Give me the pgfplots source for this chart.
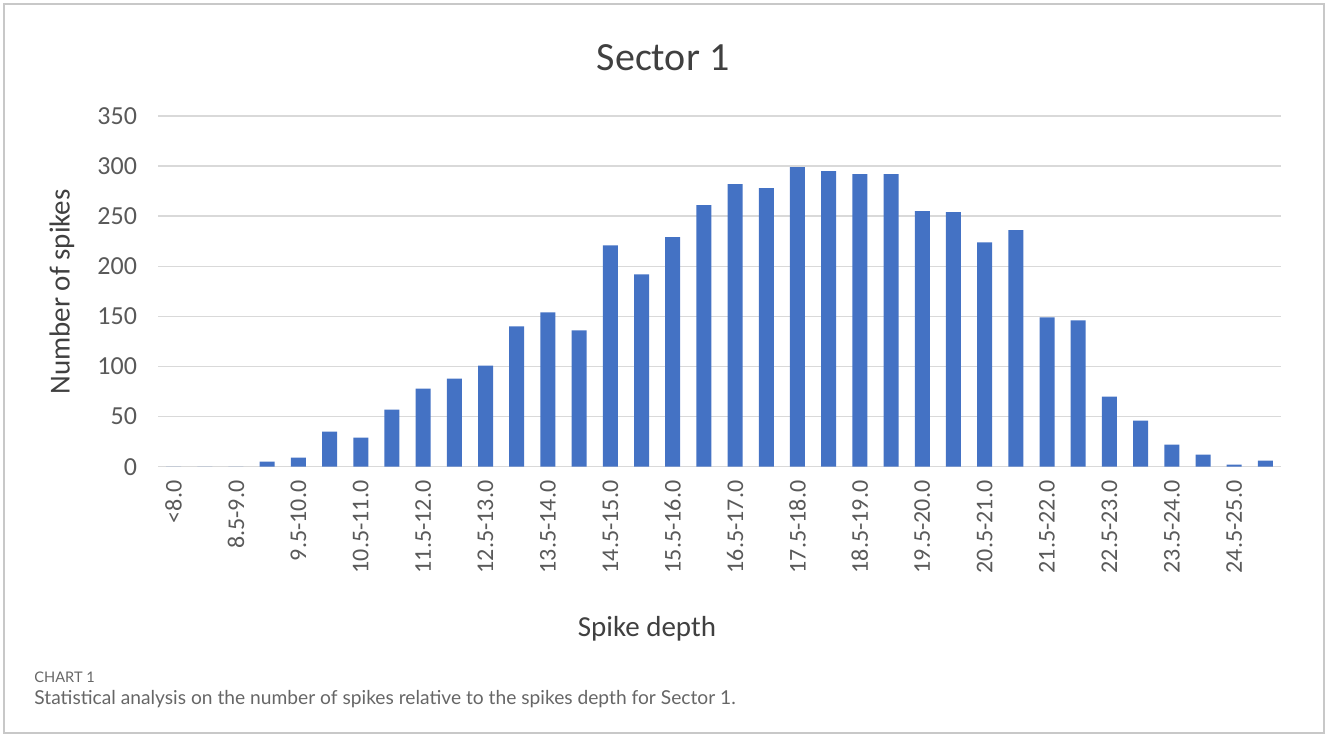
\documentclass[border=0pt]{standalone}
\usepackage{pgfplots}
\pgfplotsset{compat=1.18}
\usepackage{pgfplotstable}
\usepackage{fontspec}
\setmainfont{Carlito}
\newfontfamily\capfont{Lato}
\definecolor{barblue}{HTML}{4472C4}
\definecolor{gridgray}{HTML}{D9D9D9}
\definecolor{ticktext}{HTML}{595959}
\definecolor{labeltext}{HTML}{404040}
\definecolor{captext}{HTML}{666666}
\definecolor{framegray}{HTML}{C8C8C8}

\pgfplotstableread{
x y
0 0
1 0
2 0
3 5
4 9
5 35
6 29
7 57
8 78
9 88
10 101
11 140
12 154
13 136
14 221
15 192
16 229
17 261
18 282
19 278
20 299
21 295
22 292
23 292
24 255
25 254
26 224
27 236
28 149
29 146
30 70
31 46
32 22
33 12
34 2
35 6
}\datatable

\begin{document}
\begin{tikzpicture}
\useasboundingbox (0,0) rectangle (664pt,367.5pt);
\draw[color=framegray, line width=0.6pt] (2pt,1pt) rectangle (662pt,365.5pt);
\begin{axis}[
  at={(79pt,134.15pt)}, anchor=south west,
  width=561.5pt, height=175.35pt, scale only axis,
  xmin=-0.5, xmax=35.5, ymin=0, ymax=350,
  ytick={0,50,...,350},
  xtick={0,2,...,34},
  xticklabels={<8.0,8.5-9.0,9.5-10.0,10.5-11.0,11.5-12.0,12.5-13.0,13.5-14.0,14.5-15.0,15.5-16.0,16.5-17.0,17.5-18.0,18.5-19.0,19.5-20.0,20.5-21.0,21.5-22.0,22.5-23.0,23.5-24.0,24.5-25.0},
  xticklabel style={rotate=90, anchor=east, font=\fontsize{12}{14}\selectfont, text=ticktext},
  yticklabel style={font=\fontsize{13}{15}\selectfont, text=ticktext},
  xticklabel shift=3.5pt,
  yticklabel shift=7pt,
  /pgf/number format/assume math mode=true,
  ymajorgrids,
  grid style={draw=gridgray, line width=0.75pt},
  axis line style={draw=none},
  major tick length=0,
  ybar, bar width=7.5pt,
  clip=false,
]
\addplot[fill=barblue, draw=none] table[x=x,y=y] {\datatable};
\end{axis}
\node[font=\fontsize{20}{24}\selectfont, text=labeltext] at (331.5pt,338.5pt) {Sector 1};
\node[rotate=90, font=\fontsize{14.5}{17}\selectfont, text=labeltext] at (31pt,221.5pt) {Number of spikes};
\node[font=\fontsize{14.5}{17}\selectfont, text=labeltext] at (323.5pt,53pt) {Spike depth};
\node[anchor=base west, inner sep=0pt, font=\capfont\fontsize{7.3}{8}\selectfont, text=captext] at (17pt,26.5pt) {CHART 1};
\node[anchor=base west, inner sep=0pt, font=\capfont\fontsize{9.6}{11}\selectfont, text=captext] at (17pt,15.5pt) {Statistical analysis on the number of spikes relative to the spikes depth for Sector 1.};
\end{tikzpicture}
\end{document}
